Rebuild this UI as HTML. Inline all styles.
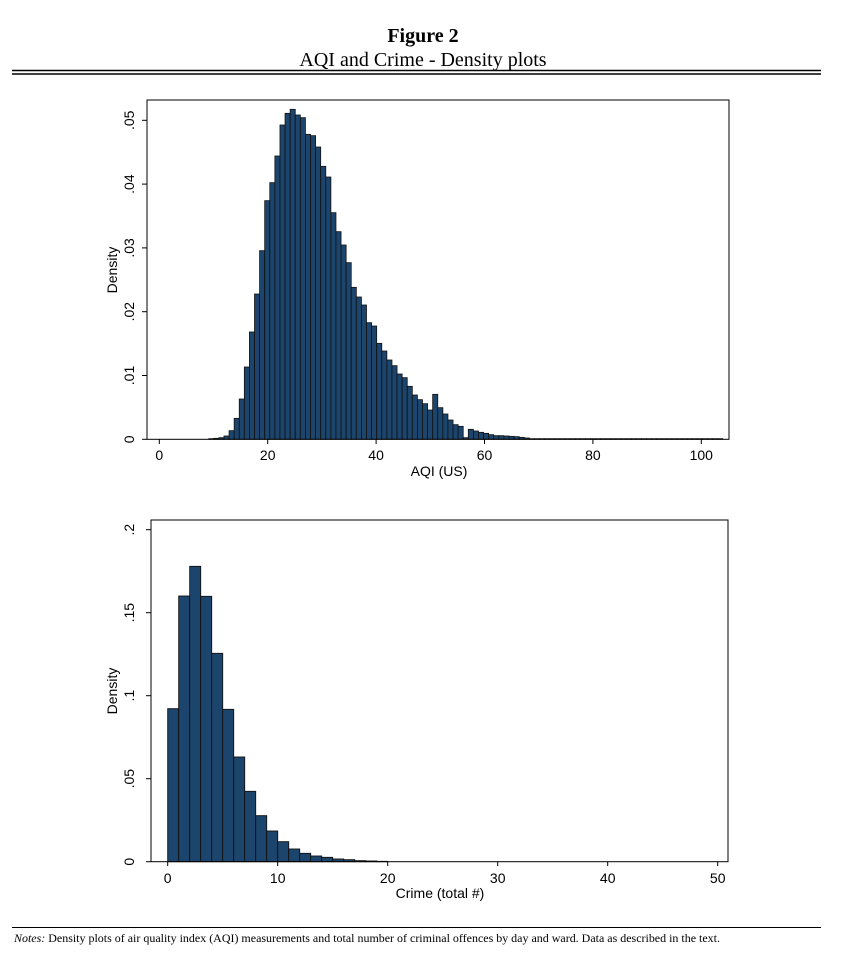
<!DOCTYPE html>
<html><head><meta charset="utf-8"><style>
html,body{margin:0;padding:0;background:#fff;width:846px;height:953px;overflow:hidden}
svg{display:block}
</style></head><body>
<svg id="s" width="846" height="953" xmlns="http://www.w3.org/2000/svg">
<text x="423" y="42" text-anchor="middle" font-family="Liberation Serif, serif" font-weight="bold" font-size="20">Figure 2</text>
<text x="423" y="66" text-anchor="middle" font-family="Liberation Serif, serif" font-size="20">AQI and Crime - Density plots</text>
<line x1="12" y1="70.5" x2="821" y2="70.5" stroke="#000" stroke-width="1.5"/>
<line x1="12" y1="74" x2="821" y2="74" stroke="#000" stroke-width="1.5"/>
<line x1="12" y1="927.5" x2="821" y2="927.5" stroke="#000" stroke-width="1"/>
<text x="14" y="942" font-family="Liberation Serif, serif" font-size="11.9" textLength="706" lengthAdjust="spacingAndGlyphs"><tspan font-style="italic">Notes:</tspan>  Density plots of air quality index (AQI) measurements and total number of criminal offences by day and ward. Data as described in the text.</text>
<g id="top"></g><g id="bot"></g>
</svg>
<script>
var NS="http://www.w3.org/2000/svg";
function el(p,n,a,t){var e=document.createElementNS(NS,n);for(var k in a)e.setAttribute(k,a[k]);if(t!=null)e.textContent=t;p.appendChild(e);return e;}
var F="Liberation Sans, Arial, sans-serif";
var T=document.getElementById('top');
var zt={9:1031,10:1030,11:1028,12:1023,13:1007,14:970,15:912,16:816,17:711,18:597,19:467,20:317,21:263,22:183,23:90,24:55,25:43,26:60,27:68,28:118,29:122,30:156,31:214,32:246,33:353,34:410,35:450,36:503,37:577,38:606,39:630,40:683,41:693,42:745,43:768,44:795,45:812,46:837,47:848,48:874,49:900,50:914,51:926,52:945,53:898,54:938,55:957,56:975,57:989,58:994,59:1028,60:1003,61:1008,62:1012,63:1015,64:1019,65:1022,66:1022,67:1023,68:1024,69:1025,70:1027,71:1029};
var base1=439.3, W=5.09;
for(var k=9;k<=109;k++){var zy=zt[k]!==undefined?zt[k]:1031;var y=95+zy/3;var x=264.7+(k-20)*W;
 if(base1-y<0.4)continue;
 el(T,'rect',{x:x,y:y,width:W,height:base1-y,fill:'#1c456e',stroke:'#111','stroke-width':0.8});}
el(T,'rect',{x:147,y:100,width:582,height:339.3,fill:'none',stroke:'#000','stroke-width':1});
for(var i=0;i<=5;i++){var y=439.3-i*63.8;el(T,'line',{x1:142,y1:y,x2:147,y2:y,stroke:'#000'});
 var lab=i==0?'0':'.0'+i;el(T,'text',{x:134,y:y,'text-anchor':'middle','font-family':F,'font-size':14,transform:'rotate(-90 134 '+y+')'},lab);}
for(var v=0;v<=100;v+=20){var x=159.3+v*5.42;el(T,'line',{x1:x,y1:439.3,x2:x,y2:444,stroke:'#000'});
 el(T,'text',{x:x,y:460,'text-anchor':'middle','font-family':F,'font-size':14},v);}
el(T,'text',{x:439,y:476,'text-anchor':'middle','font-family':F,'font-size':14},'AQI (US)');
el(T,'text',{x:117,y:270,'text-anchor':'middle','font-family':F,'font-size':14,transform:'rotate(-90 117 270)'},'Density');
var B=document.getElementById('bot');
var zb=[596,258,169,259,430,598,741,844,917,963,995,1017,1030,1038,1042,1047,1049,1052,1053,1054];
var base2=861.7;
for(var k=0;k<zb.length;k++){var y=510+zb[k]/3;var x=167.7+k*11;
 el(B,'rect',{x:x,y:y,width:11,height:base2-y,fill:'#1c456e',stroke:'#111','stroke-width':0.9});}
el(B,'rect',{x:151,y:520,width:577,height:341.7,fill:'none',stroke:'#000','stroke-width':1});
var labs=['0','.05','.1','.15','.2'];
for(var i=0;i<=4;i++){var y=861.7-i*83;el(B,'line',{x1:146,y1:y,x2:151,y2:y,stroke:'#000'});
 el(B,'text',{x:134,y:y,'text-anchor':'middle','font-family':F,'font-size':14,transform:'rotate(-90 134 '+y+')'},labs[i]);}
for(var v=0;v<=50;v+=10){var x=167.7+v*11;el(B,'line',{x1:x,y1:861.7,x2:x,y2:866,stroke:'#000'});
 el(B,'text',{x:x,y:883,'text-anchor':'middle','font-family':F,'font-size':14},v);}
el(B,'text',{x:440,y:898,'text-anchor':'middle','font-family':F,'font-size':14},'Crime (total #)');
el(B,'text',{x:117,y:691,'text-anchor':'middle','font-family':F,'font-size':14,transform:'rotate(-90 117 691)'},'Density');
</script>
</body></html>
